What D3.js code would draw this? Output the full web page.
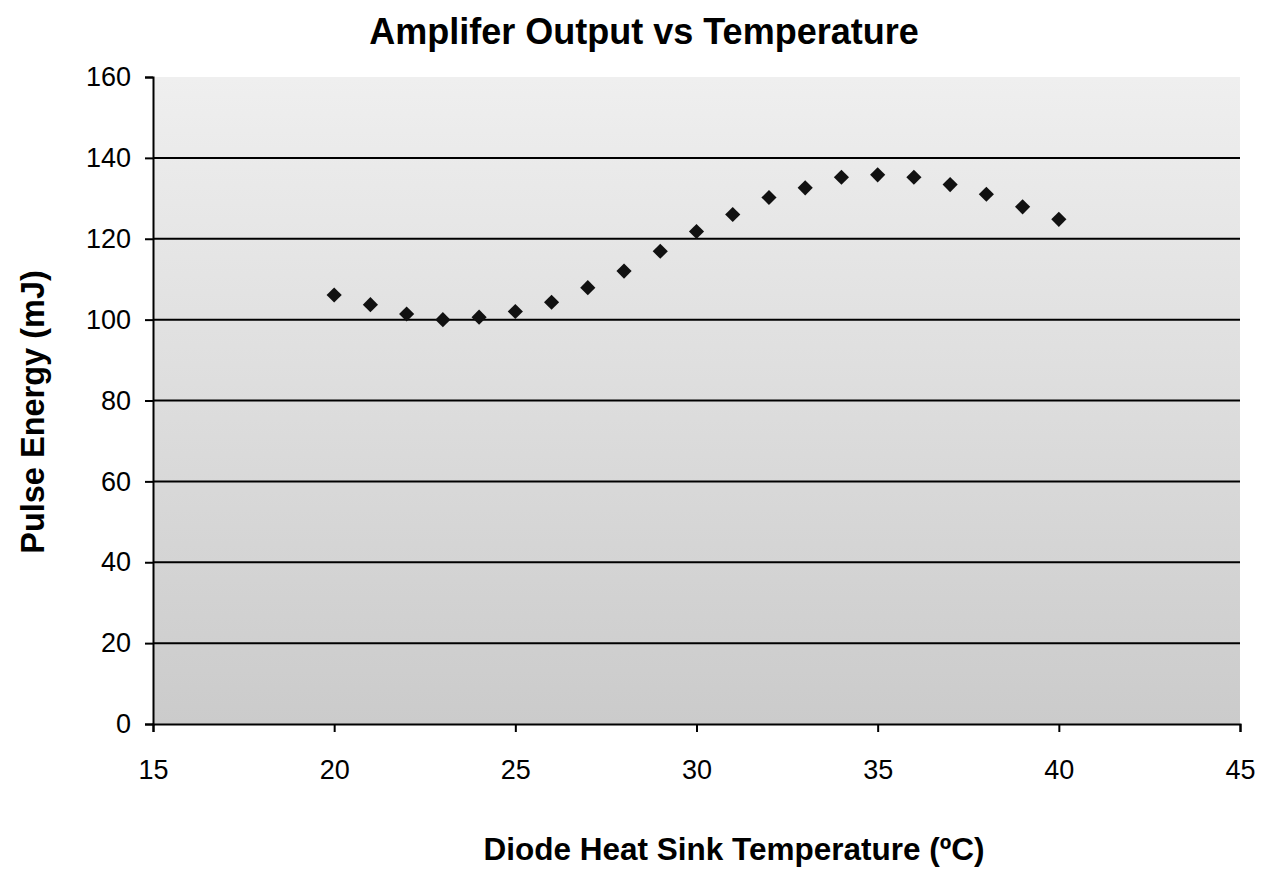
<!DOCTYPE html>
<html><head><meta charset="utf-8">
<script src="https://cdn.jsdelivr.net/npm/d3@7"></script>
<style>body{margin:0;background:#fff}svg{display:block}text{font-family:"Liberation Sans",Arial,sans-serif}</style>
</head><body>
<svg id="c" width="1263" height="874"></svg>
<script>
const temperatures = [20,21,22,23,24,25,26,27,28,29,30,31,32,33,34,35,36,37,38,39,40];
const pulseEnergy = [106.1,103.7,101.4,100.0,100.6,102.0,104.3,107.9,112.0,116.9,121.8,126.0,130.2,132.6,135.2,135.8,135.2,133.4,131.0,127.9,124.8];
const xTicks = [15,20,25,30,35,40,45];
const yTicks = [0,20,40,60,80,100,120,140,160];
const title = "Amplifer Output vs Temperature";
const xTitle = "Diode Heat Sink Temperature (ºC)";
const yTitle = "Pulse Energy (mJ)";

const svg = d3.select("#c");
const L=153,R=1240,T=77,B=724;
const x = d3.scaleLinear().domain([15,45]).range([L,R]);
const y = d3.scaleLinear().domain([0,160]).range([B,T]);

const defs = svg.append("defs");
const g = defs.append("linearGradient").attr("id","bg").attr("x1",0).attr("y1",0).attr("x2",0).attr("y2",1);
g.append("stop").attr("offset","0%").attr("stop-color","#efefef");
g.append("stop").attr("offset","100%").attr("stop-color","#cbcbcb");

svg.append("rect").attr("x",L).attr("y",T).attr("width",R-L).attr("height",B-T).attr("fill","url(#bg)");

// gridlines
svg.append("g").selectAll("line").data(yTicks.filter(d=>d>0&&d<160)).join("line")
  .attr("x1",L).attr("x2",R).attr("y1",d=>y(d)).attr("y2",d=>y(d))
  .attr("stroke","#000").attr("stroke-width",2);

// axes
const yAxis = svg.append("g").attr("transform",`translate(${L},0)`)
  .call(d3.axisLeft(y).tickValues(yTicks).tickSize(8).tickPadding(14));
const xAxis = svg.append("g").attr("transform",`translate(0,${B})`)
  .call(d3.axisBottom(x).tickValues(xTicks).tickSize(8).tickPadding(28));
[yAxis,xAxis].forEach(a=>{
  a.select(".domain").attr("stroke","#000").attr("stroke-width",2);
  a.selectAll(".tick line").attr("stroke","#000").attr("stroke-width",2);
  a.selectAll(".tick text").attr("fill","#000").style("font-size","27px").style("font-family","'Liberation Sans',Arial,sans-serif");
});

// points
svg.append("g").selectAll("path").data(temperatures).join("path")
  .attr("d",d3.symbol().type(d3.symbolSquare).size(115))
  .attr("transform",(d,i)=>`translate(${x(d)},${y(pulseEnergy[i])}) rotate(45)`)
  .attr("fill","#111");

svg.append("text").attr("x",644).attr("y",44).attr("text-anchor","middle")
  .style("font-size","36px").style("font-weight","bold").text(title);
svg.append("text").attr("x",734).attr("y",860).attr("text-anchor","middle")
  .style("font-size","31.5px").style("font-weight","bold").text(xTitle);
svg.append("text").attr("transform","translate(44,412) rotate(-90)").attr("text-anchor","middle")
  .style("font-size","32.5px").style("font-weight","bold").text(yTitle);
</script>
</body></html>
